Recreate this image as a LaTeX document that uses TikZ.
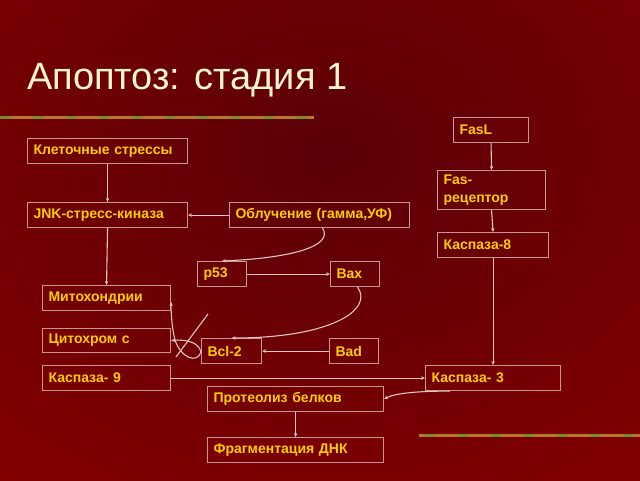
\documentclass[tikz,border=0pt]{standalone}
\usepackage{fontspec}
\setmainfont{Liberation Sans}
\usetikzlibrary{arrows.meta,calc}
\definecolor{bgdark}{HTML}{5A0008}
\definecolor{bgred}{HTML}{820000}
\definecolor{lbl}{HTML}{FFCC00}
\definecolor{brd}{HTML}{C89494}
\definecolor{lnk}{HTML}{E2C4C4}
\definecolor{ttl}{HTML}{FFF5CC}
\definecolor{deco}{HTML}{B8782A}
\definecolor{decog}{HTML}{7A8A30}
\tikzset{
  box/.style={draw=brd, line width=1.1pt, anchor=north west, inner xsep=6pt, inner ysep=0pt,
    align=left, text=lbl, font=\fontsize{14}{17.5}\selectfont\bfseries},
  conn/.style={draw=lnk, line width=1.1pt, -{Stealth[length=4pt,width=3.5pt]}},
  plain/.style={draw=lnk, line width=1.1pt},
  decoline/.style={line width=3pt, draw=deco},
  decoover/.style={line width=3pt, draw=decog, dash pattern=on 10pt off 23pt}
}
\newcommand{\bx}[6]{\node[box, minimum width=#4pt, minimum height=#5pt, text width=#4pt-12pt] (#1) at (#2,#3) {#6};}
\begin{document}
\begin{tikzpicture}[x=1pt,y=-1pt]
\useasboundingbox (0,0) rectangle (640,480);
\begin{scope}
\clip (0,0) rectangle (640,480);
\shade[inner color=bgdark, outer color=bgred] (-200,-250) rectangle (860,560);
\end{scope}
% decorative lines
\draw[decoline] (0,117) -- (314,117);
\draw[decoover] (0,117) -- (314,117);
\draw[decoline] (419,435) -- (640,435);
\draw[decoover] (425,435) -- (640,435);
% title
\node[anchor=base west, inner sep=0pt, text=ttl, font=\fontsize{38}{44}\selectfont] (title) at (27,89) {Апоптоз: стадия 1};
% boxes
\bx{cs}{27}{138}{160}{25}{Клеточные стрессы}
\bx{jnk}{27}{202}{160}{25}{JNK-стресс-киназа}
\bx{obl}{229}{202}{180}{25}{Облучение (гамма,УФ)}
\bx{p53}{197}{261}{49}{25}{p53}
\bx{bax}{330}{261}{49}{25}{Bax}
\bx{mito}{42}{285}{128}{25}{Митохондрии}
\bx{cyt}{42}{328}{128}{24}{Цитохром с}
\bx{cnine}{42}{365}{128}{25}{Каспаза- 9}
\bx{bcl}{201}{338}{60}{25}{Bcl-2}
\bx{bad}{329}{338}{49}{25}{Bad}
\bx{cthree}{425}{365}{135}{25}{Каспаза- 3}
\bx{prot}{207}{386}{176}{25}{Протеолиз белков}
\bx{frag}{207}{437}{176}{25}{Фрагментация ДНК}
\bx{fasl}{453}{117}{75}{25}{FasL}
\bx{fasr}{437}{170}{108}{39}{Fas-\\рецептор}
\bx{ceight}{437}{232}{111}{25}{Каспаза-8}
% connectors
\draw[conn] (cs.south) -- (jnk.north);
\draw[conn] (obl.west) -- (jnk.east);
\draw[conn] (jnk.south) -- (mito.north);
\draw[conn] ($(obl.south)+(3,0)$) .. controls (334,246) and (292,258) .. (p53.north);
\draw[conn] (p53.east) -- (bax.west);
\draw[conn] ($(bax.south)+(2.5,0)$) .. controls (374,310) and (330,338) .. (bcl.north);
\draw[conn] (bad.west) -- (bcl.east);
\draw[conn] ($(bcl.west)+(0,1)$) .. controls (197,364) and (181,358) .. (175,340) .. controls (172,328) and (171,314) .. ($(mito.east)+(0,4)$);
\draw[conn] ($(bcl.west)+(0,1)$) .. controls (199,344) and (190,339) .. (cyt.east);
\coordinate (xa) at (208,314);
\coordinate (xb) at (176,357);
\draw[plain] (xa) -- (xb);
\draw[conn] (cnine.east) -- (cthree.west);
\draw[conn] (fasl.south) -- (fasr.north);
\draw[conn] (fasr.south) -- (ceight.north);
\draw[conn] (ceight.south) -- (cthree.north);
\draw[conn] ($(cthree.south west)+(25,0)$) .. controls (420,391) and (395,393) .. (prot.east);
\draw[conn] (prot.south) -- (frag.north);
\end{tikzpicture}
\end{document}
